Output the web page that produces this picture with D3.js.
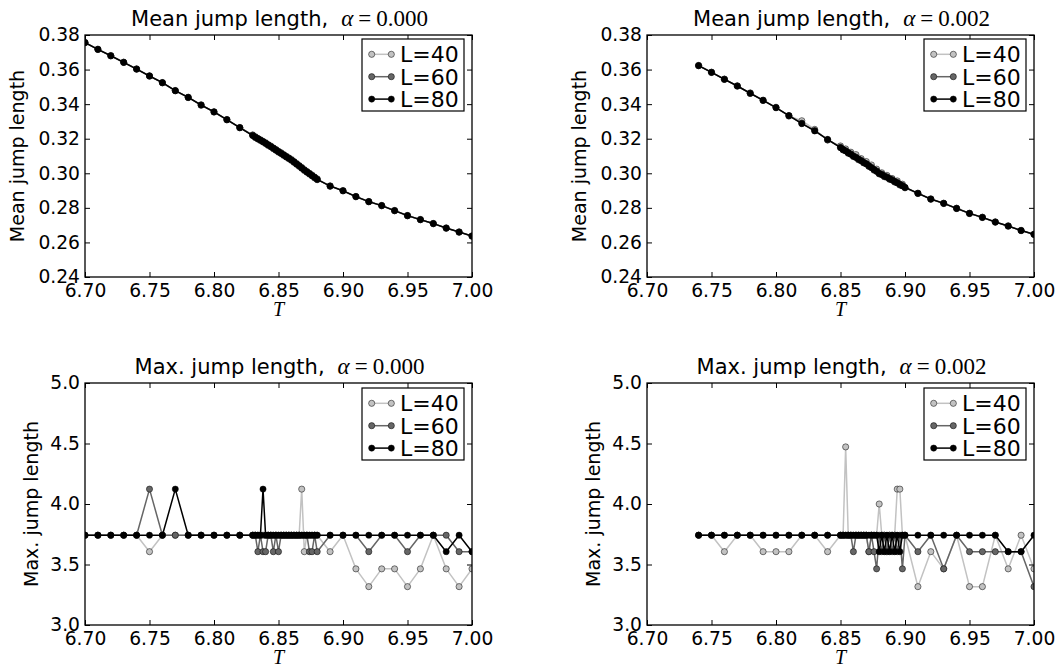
<!DOCTYPE html>
<html><head><meta charset="utf-8">
<script src="https://cdn.jsdelivr.net/npm/d3@7"></script>
<style>body{margin:0;background:#fff}</style>
</head><body>
<svg id="c" width="1060" height="669"></svg>
<script>
// ---------------- DATA ----------------
const T0 = [6.70,6.71,6.72,6.73,6.74,6.75,6.76,6.77,6.78,6.79,6.80,6.81,6.82,
  6.830,6.832,6.834,6.836,6.838,6.840,6.842,6.844,6.846,6.848,6.850,6.852,6.854,6.856,6.858,6.860,6.862,6.864,6.866,6.868,6.870,6.872,6.874,6.876,6.878,6.880,
  6.89,6.90,6.91,6.92,6.93,6.94,6.95,6.96,6.97,6.98,6.99,7.00];
const T2 = [6.74,6.75,6.76,6.77,6.78,6.79,6.80,6.81,6.82,6.83,6.84,
  6.850,6.852,6.854,6.856,6.858,6.860,6.862,6.864,6.866,6.868,6.870,6.872,6.874,6.876,6.878,6.880,6.882,6.884,6.886,6.888,6.890,6.892,6.894,6.896,6.898,6.900,
  6.91,6.92,6.93,6.94,6.95,6.96,6.97,6.98,6.99,7.00];

const meanA0_L40 = [0.3755,0.3718,0.3679,0.3643,0.3602,0.3564,0.3523,0.3479,0.3438,0.3396,0.3354,0.3311,0.3263,
  0.3222,0.3212,0.3198,0.3194,0.3181,0.3177,0.3161,0.3158,0.3142,0.3138,0.3122,0.3119,0.3103,0.3099,0.3084,0.3080,0.3063,0.3057,0.3040,0.3034,0.3016,0.3011,0.2995,0.2990,0.2973,0.2968,
  0.2925,0.2900,0.2864,0.2837,0.2812,0.2785,0.2754,0.2733,0.2708,0.2684,0.2659,0.2638];
const meanA0_L60 = [0.3757,0.3716,0.3681,0.3641,0.3604,0.3562,0.3525,0.3477,0.3440,0.3394,0.3356,0.3309,0.3265,
  0.3220,0.3207,0.3202,0.3190,0.3185,0.3172,0.3166,0.3153,0.3147,0.3133,0.3127,0.3114,0.3108,0.3094,0.3089,0.3075,0.3068,0.3052,0.3045,0.3029,0.3021,0.3006,0.3000,0.2985,0.2978,0.2963,
  0.2927,0.2898,0.2866,0.2835,0.2814,0.2783,0.2756,0.2731,0.2710,0.2682,0.2661,0.2636];
const meanA0_L80 = [0.3756,0.3717,0.3680,0.3642,0.3603,0.3563,0.3524,0.3478,0.3439,0.3395,0.3355,0.3310,0.3264,
  0.3218,0.3209,0.3200,0.3192,0.3183,0.3174,0.3164,0.3155,0.3145,0.3135,0.3125,0.3116,0.3106,0.3096,0.3087,0.3077,0.3066,0.3054,0.3043,0.3031,0.3019,0.3008,0.2998,0.2987,0.2976,0.2965,
  0.2926,0.2899,0.2865,0.2836,0.2813,0.2784,0.2755,0.2732,0.2709,0.2683,0.2660,0.2637];

const meanA2_L40 = [0.3624,0.3583,0.3545,0.3504,0.3465,0.3421,0.3382,0.3331,0.3304,0.3254,0.3192,
  0.3158,0.3135,0.3141,0.3116,0.3122,0.3097,0.3108,0.3078,0.3085,0.3060,0.3068,0.3040,0.3048,0.3018,0.3024,0.2996,0.3003,0.2980,0.2988,0.2965,0.2970,0.2949,0.2956,0.2932,0.2937,0.2916,
  0.2883,0.2852,0.2825,0.2798,0.2767,0.2746,0.2717,0.2696,0.2668,0.2648];
const meanA2_L60 = [0.3622,0.3585,0.3543,0.3506,0.3462,0.3423,0.3379,0.3334,0.3290,0.3247,0.3194,
  0.3150,0.3136,0.3131,0.3117,0.3112,0.3098,0.3094,0.3080,0.3075,0.3061,0.3056,0.3041,0.3035,0.3020,0.3014,0.2998,0.2995,0.2982,0.2979,0.2967,0.2964,0.2951,0.2947,0.2934,0.2930,0.2917,
  0.2885,0.2850,0.2827,0.2796,0.2769,0.2744,0.2719,0.2694,0.2670,0.2646];
const meanA2_L80 = [0.3623,0.3584,0.3544,0.3505,0.3463,0.3422,0.3380,0.3333,0.3287,0.3245,0.3196,
  0.3148,0.3138,0.3129,0.3119,0.3110,0.3100,0.3091,0.3082,0.3072,0.3063,0.3054,0.3043,0.3032,0.3022,0.3011,0.3000,0.2992,0.2984,0.2977,0.2969,0.2961,0.2953,0.2944,0.2936,0.2927,0.2919,
  0.2884,0.2851,0.2826,0.2797,0.2768,0.2745,0.2718,0.2695,0.2669,0.2647];

const maxA0_L40 = [3.742,3.742,3.742,3.742,3.742,3.606,3.742,3.742,3.742,3.742,3.742,3.742,3.742,
  3.742,3.742,3.742,3.742,3.742,3.742,3.742,3.742,3.742,3.742,3.742,3.742,3.742,3.742,3.742,3.742,3.742,3.742,3.742,4.123,3.606,3.742,3.742,3.742,3.742,3.742,
  3.606,3.742,3.464,3.317,3.464,3.464,3.317,3.464,3.742,3.464,3.317,3.464];
const maxA0_L60 = [3.742,3.742,3.742,3.742,3.742,4.123,3.742,3.742,3.742,3.742,3.742,3.742,3.742,
  3.742,3.742,3.606,3.742,3.606,3.606,3.742,3.742,3.606,3.742,3.606,3.742,3.742,3.742,3.742,3.742,3.742,3.742,3.742,3.742,3.742,3.742,3.606,3.606,3.742,3.606,
  3.742,3.742,3.742,3.606,3.742,3.742,3.606,3.742,3.742,3.742,3.606,3.606];
const maxA0_L80 = [3.742,3.742,3.742,3.742,3.742,3.742,3.742,4.123,3.742,3.742,3.742,3.742,3.742,
  3.742,3.742,3.742,3.742,4.123,3.742,3.742,3.742,3.742,3.742,3.742,3.742,3.742,3.742,3.742,3.742,3.742,3.742,3.742,3.742,3.742,3.742,3.742,3.742,3.742,3.742,
  3.742,3.742,3.742,3.742,3.742,3.742,3.742,3.742,3.742,3.606,3.742,3.606];

const maxA2_L40 = [3.742,3.742,3.606,3.742,3.742,3.606,3.606,3.606,3.742,3.742,3.606,
  3.742,3.742,4.472,3.742,3.742,3.742,3.742,3.742,3.742,3.742,3.742,3.606,3.742,3.742,3.742,4.000,3.742,3.742,3.606,3.742,3.742,3.742,4.123,4.123,3.742,3.742,
  3.317,3.606,3.464,3.742,3.317,3.317,3.742,3.464,3.742,3.464];
const maxA2_L60 = [3.742,3.742,3.742,3.742,3.742,3.742,3.742,3.742,3.742,3.742,3.742,
  3.742,3.742,3.742,3.742,3.742,3.606,3.742,3.742,3.742,3.742,3.742,3.606,3.742,3.606,3.464,3.742,3.606,3.742,3.606,3.742,3.606,3.742,3.606,3.742,3.464,3.742,
  3.606,3.742,3.464,3.742,3.606,3.606,3.606,3.606,3.606,3.317];
const maxA2_L80 = [3.742,3.742,3.742,3.742,3.742,3.742,3.742,3.742,3.742,3.742,3.742,
  3.742,3.742,3.742,3.742,3.742,3.742,3.742,3.742,3.742,3.742,3.742,3.742,3.742,3.742,3.742,3.606,3.742,3.606,3.742,3.606,3.742,3.606,3.742,3.606,3.742,3.742,
  3.742,3.742,3.742,3.742,3.742,3.742,3.742,3.606,3.606,3.742];

const seriesNames = ["L=40", "L=60", "L=80"];
const xTicks = [6.70, 6.75, 6.80, 6.85, 6.90, 6.95, 7.00];
const meanTicks = [0.24, 0.26, 0.28, 0.30, 0.32, 0.34, 0.36, 0.38];
const maxTicks = [3.0, 3.5, 4.0, 4.5, 5.0];
const titles = ["Mean jump length,", "Mean jump length,", "Max. jump length,", "Max. jump length,"];
const alphaLabels = ["0.000", "0.002", "0.000", "0.002"];
const yLabels = ["Mean jump length", "Mean jump length", "Max. jump length", "Max. jump length"];

// ---------------- STYLE / LAYOUT ----------------
const colors = ["#c2c2c2", "#666666", "#000000"];
const SANS = "'DejaVu Sans', sans-serif";
const SERIF = "'Liberation Serif', 'DejaVu Serif', serif";

const panels = [
  {x0: 85, x1: 472, y0: 35, y1: 277, T: T0, ys: [meanA0_L40, meanA0_L60, meanA0_L80], dom: [0.24, 0.38], ticks: meanTicks, fmt: d3.format(".2f"), labOff: 61},
  {x0: 647, x1: 1034, y0: 35, y1: 277, T: T2, ys: [meanA2_L40, meanA2_L60, meanA2_L80], dom: [0.24, 0.38], ticks: meanTicks, fmt: d3.format(".2f"), labOff: 61},
  {x0: 85, x1: 472, y0: 383, y1: 625, T: T0, ys: [maxA0_L40, maxA0_L60, maxA0_L80], dom: [3.0, 5.0], ticks: maxTicks, fmt: d3.format(".1f"), labOff: 47},
  {x0: 647, x1: 1034, y0: 383, y1: 625, T: T2, ys: [maxA2_L40, maxA2_L60, maxA2_L80], dom: [3.0, 5.0], ticks: maxTicks, fmt: d3.format(".1f"), labOff: 47}
];

const svg = d3.select("#c");
svg.append("rect").attr("width", 1060).attr("height", 669).attr("fill", "#fff");
const defs = svg.append("defs");

panels.forEach((p, i) => {
  const x = d3.scaleLinear().domain([6.70, 7.00]).range([p.x0, p.x1]);
  const y = d3.scaleLinear().domain(p.dom).range([p.y1, p.y0]);
  const g = svg.append("g");

  defs.append("clipPath").attr("id", "clip" + i).append("rect")
    .attr("x", p.x0).attr("y", p.y0).attr("width", p.x1 - p.x0).attr("height", p.y1 - p.y0);

  const plot = g.append("g").attr("clip-path", `url(#clip${i})`);
  const line = d3.line().x(d => x(d[0])).y(d => y(d[1]));
  p.ys.forEach((vals, s) => {
    const pts = p.T.map((t, k) => [t, vals[k]]);
    plot.append("path").attr("d", line(pts)).attr("fill", "none")
      .attr("stroke", colors[s]).attr("stroke-width", 1.5).attr("stroke-linejoin", "round");
    plot.selectAll(null).data(pts).enter().append("circle")
      .attr("cx", d => x(d[0])).attr("cy", d => y(d[1])).attr("r", 3.1)
      .attr("fill", colors[s]).attr("stroke", "#000").attr("stroke-width", 0.5);
  });

  // axes (inward ticks on all four sides)
  const ax = (axis, tx, ty) => {
    const a = g.append("g").attr("transform", `translate(${tx},${ty})`).call(axis);
    a.select(".domain").remove();
    a.selectAll("line").attr("stroke", "#000").attr("stroke-width", 1);
    a.selectAll("text").attr("font-family", SANS).attr("font-size", 18.7).attr("fill", "#000");
    return a;
  };
  ax(d3.axisBottom(x).tickValues(xTicks).tickSize(-5).tickSizeOuter(0).tickPadding(7).tickFormat(d3.format(".2f")), 0, p.y1);
  ax(d3.axisTop(x).tickValues(xTicks).tickSize(-5).tickSizeOuter(0).tickFormat(""), 0, p.y0);
  ax(d3.axisLeft(y).tickValues(p.ticks).tickSize(-5).tickSizeOuter(0).tickPadding(5).tickFormat(p.fmt), p.x0, 0);
  ax(d3.axisRight(y).tickValues(p.ticks).tickSize(-5).tickSizeOuter(0).tickFormat(""), p.x1, 0);

  g.append("rect").attr("x", p.x0).attr("y", p.y0).attr("width", p.x1 - p.x0).attr("height", p.y1 - p.y0)
    .attr("fill", "none").attr("stroke", "#000").attr("stroke-width", 1.3);

  // title
  const t = g.append("text").attr("x", (p.x0 + p.x1) / 2 + 1).attr("y", p.y0 - 9)
    .attr("text-anchor", "middle").attr("fill", "#000");
  t.append("tspan").attr("font-family", SANS).attr("font-size", 21).text(titles[i]);
  t.append("tspan").attr("font-family", SERIF).attr("font-style", "italic").attr("font-size", 23).attr("dx", 13).text("α");
  t.append("tspan").attr("font-family", SERIF).attr("font-size", 23).attr("dx", 5).text("=");
  t.append("tspan").attr("font-family", SERIF).attr("font-size", 23).attr("dx", 5).text(alphaLabels[i]);

  // x label
  g.append("text").attr("x", (p.x0 + p.x1) / 2).attr("y", p.y1 + 39)
    .attr("text-anchor", "middle").attr("font-family", SERIF).attr("font-style", "italic")
    .attr("font-size", 20).text("T");

  // y label
  g.append("text").attr("transform", `translate(${p.x0 - p.labOff},${(p.y0 + p.y1) / 2}) rotate(-90)`)
    .attr("text-anchor", "middle").attr("font-family", SANS).attr("font-size", 19).text(yLabels[i]);

  // legend
  const bx = p.x1 - 110, by = p.y0 + (i < 2 ? 4 : 5), bw = 102, bh = 72;
  const lg = g.append("g");
  lg.append("rect").attr("x", bx).attr("y", by).attr("width", bw).attr("height", bh)
    .attr("fill", "#fff").attr("stroke", "#000").attr("stroke-width", 1.2);
  seriesNames.forEach((nm, s) => {
    const cy = by + 15.3 + s * 22.4;
    lg.append("line").attr("x1", bx + 9.7).attr("x2", bx + 29.3).attr("y1", cy).attr("y2", cy)
      .attr("stroke", colors[s]).attr("stroke-width", 1.5);
    [bx + 9.7, bx + 29.3].forEach(cx => lg.append("circle").attr("cx", cx).attr("cy", cy).attr("r", 3.1)
      .attr("fill", colors[s]).attr("stroke", "#000").attr("stroke-width", 0.5));
    lg.append("text").attr("x", bx + 38).attr("y", cy + 8).attr("font-family", SANS)
      .attr("font-size", 22).attr("fill", "#000").text(nm);
  });
});
</script>
</body></html>
